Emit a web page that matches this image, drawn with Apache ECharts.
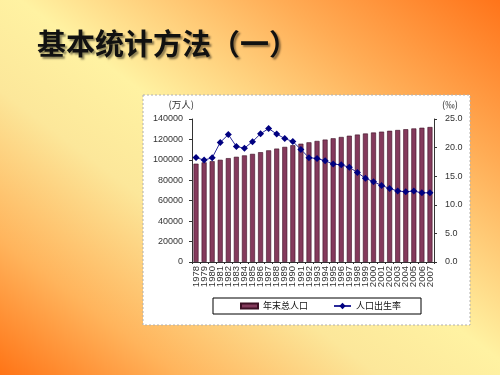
<!DOCTYPE html>
<html>
<head>
<meta charset="utf-8">
<script src="https://cdn.jsdelivr.net/npm/echarts@6/dist/echarts.min.js"></script>
<style>
html,body{margin:0;padding:0;}
#c{width:500px;height:375px;background:linear-gradient(to bottom left,#ff741a 0%,#ffac55 22%,#fff2a2 48%,#fce79a 62%,#ffb45c 82%,#ff7416 100%);}
</style>
</head>
<body>
<div id="c"></div>
<script>
var titleText = '基本统计方法（一）';
var years = ['1978','1979','1980','1981','1982','1983','1984','1985','1986','1987','1988','1989','1990','1991','1992','1993','1994','1995','1996','1997','1998','1999','2000','2001','2002','2003','2004','2005','2006','2007'];
var population = [96259,97542,98705,100072,101654,103008,104357,105851,107507,109300,111026,112704,114333,115823,117171,118517,119850,121121,122389,123626,124761,125786,126743,127627,128453,129227,129988,130756,131448,132129];
var birthRate = [18.25,17.82,18.21,20.91,22.28,20.19,19.90,21.04,22.43,23.33,22.37,21.58,21.06,19.68,18.24,18.09,17.70,17.12,16.98,16.57,15.64,14.64,14.03,13.38,12.86,12.41,12.29,12.40,12.09,12.10];
var leftTicks = {min:0, max:140000, interval:20000};
var rightTicks = {min:0, max:25, interval:5};
var seriesNames = ['年末总人口','人口出生率'];
var leftUnit = '(万人)';
var rightUnit = '(‰)';

var chart = echarts.init(document.getElementById('c'), null, {renderer:'canvas'});
var axisFont = 'Liberation Sans, Arial, sans-serif';
chart.setOption({
  backgroundColor: 'transparent',
  animation: false,
  title: {
    text: titleText, left: 32, top: 24,
    textStyle: {fontFamily:'Noto Sans CJK SC', fontWeight:'bold', fontSize:29, color:'#111',
      textShadowColor:'rgba(0,0,0,0.45)', textShadowOffsetX:2, textShadowOffsetY:2, textShadowBlur:2}
  },
  graphic: [{
    type:'rect', z:-10, shape:{x:143, y:95, width:327, height:230},
    style:{fill:'#ffffff', stroke:'#b0b0b0', lineWidth:1, lineDash:[2,2]}
  }],
  grid: {left:192, right:66, top:119, bottom:113},
  legend: {
    left:213, top:298,
    padding:[3,20,3,27], itemGap:25, itemWidth:17, itemHeight:8,
    borderColor:'#000', borderWidth:1, backgroundColor:'#fff',
    textStyle:{fontFamily:'Noto Sans CJK SC', fontSize:9, color:'#111', lineHeight:10},
    data:[{name:seriesNames[0], icon:'path://M0,0h17v5h-17z'}, {name:seriesNames[1]}]
  },
  xAxis: {
    type:'category', data: years,
    axisLine:{lineStyle:{color:'#333', width:1}},
    axisTick:{show:true, length:2, interval:0, lineStyle:{color:'#333'}},
    axisLabel:{interval:0, rotate:90, fontSize:9.5, color:'#333', fontFamily:axisFont, margin:4}
  },
  yAxis: [{
    type:'value', min:leftTicks.min, max:leftTicks.max, interval:leftTicks.interval,
    name:leftUnit, nameLocation:'end', nameGap:10,
    nameTextStyle:{fontFamily:'Noto Sans CJK SC', fontSize:9.5, color:'#333', align:'right', padding:[0,-2,0,0]},
    axisLine:{show:true, lineStyle:{color:'#333'}},
    axisTick:{show:true, length:3, lineStyle:{color:'#333'}},
    splitLine:{show:false},
    axisLabel:{fontSize:9, color:'#333', fontFamily:axisFont, margin:9,
      formatter:function(v){return String(v);}}
  },{
    type:'value', min:rightTicks.min, max:rightTicks.max, interval:rightTicks.interval,
    name:rightUnit, nameLocation:'end', nameGap:10,
    nameTextStyle:{fontFamily:'Noto Sans CJK SC', fontSize:9.5, color:'#333', align:'left', padding:[0,0,0,8]},
    axisLine:{show:true, lineStyle:{color:'#333'}},
    axisTick:{show:true, length:3, lineStyle:{color:'#333'}},
    splitLine:{show:false},
    axisLabel:{fontSize:9, color:'#333', fontFamily:axisFont, margin:11,
      formatter:function(v){return v.toFixed(1);}}
  }],
  series: [{
    name:seriesNames[0], type:'bar', yAxisIndex:0, data:population,
    barWidth:5,
    itemStyle:{color:'#843a5c', borderColor:'#3d1025', borderWidth:0.6}
  },{
    name:seriesNames[1], type:'line', yAxisIndex:1, data:birthRate,
    symbol:'diamond', symbolSize:7,
    lineStyle:{color:'#2a2a9a', width:1},
    itemStyle:{color:'#000080'}
  }]
});
</script>
</body>
</html>
